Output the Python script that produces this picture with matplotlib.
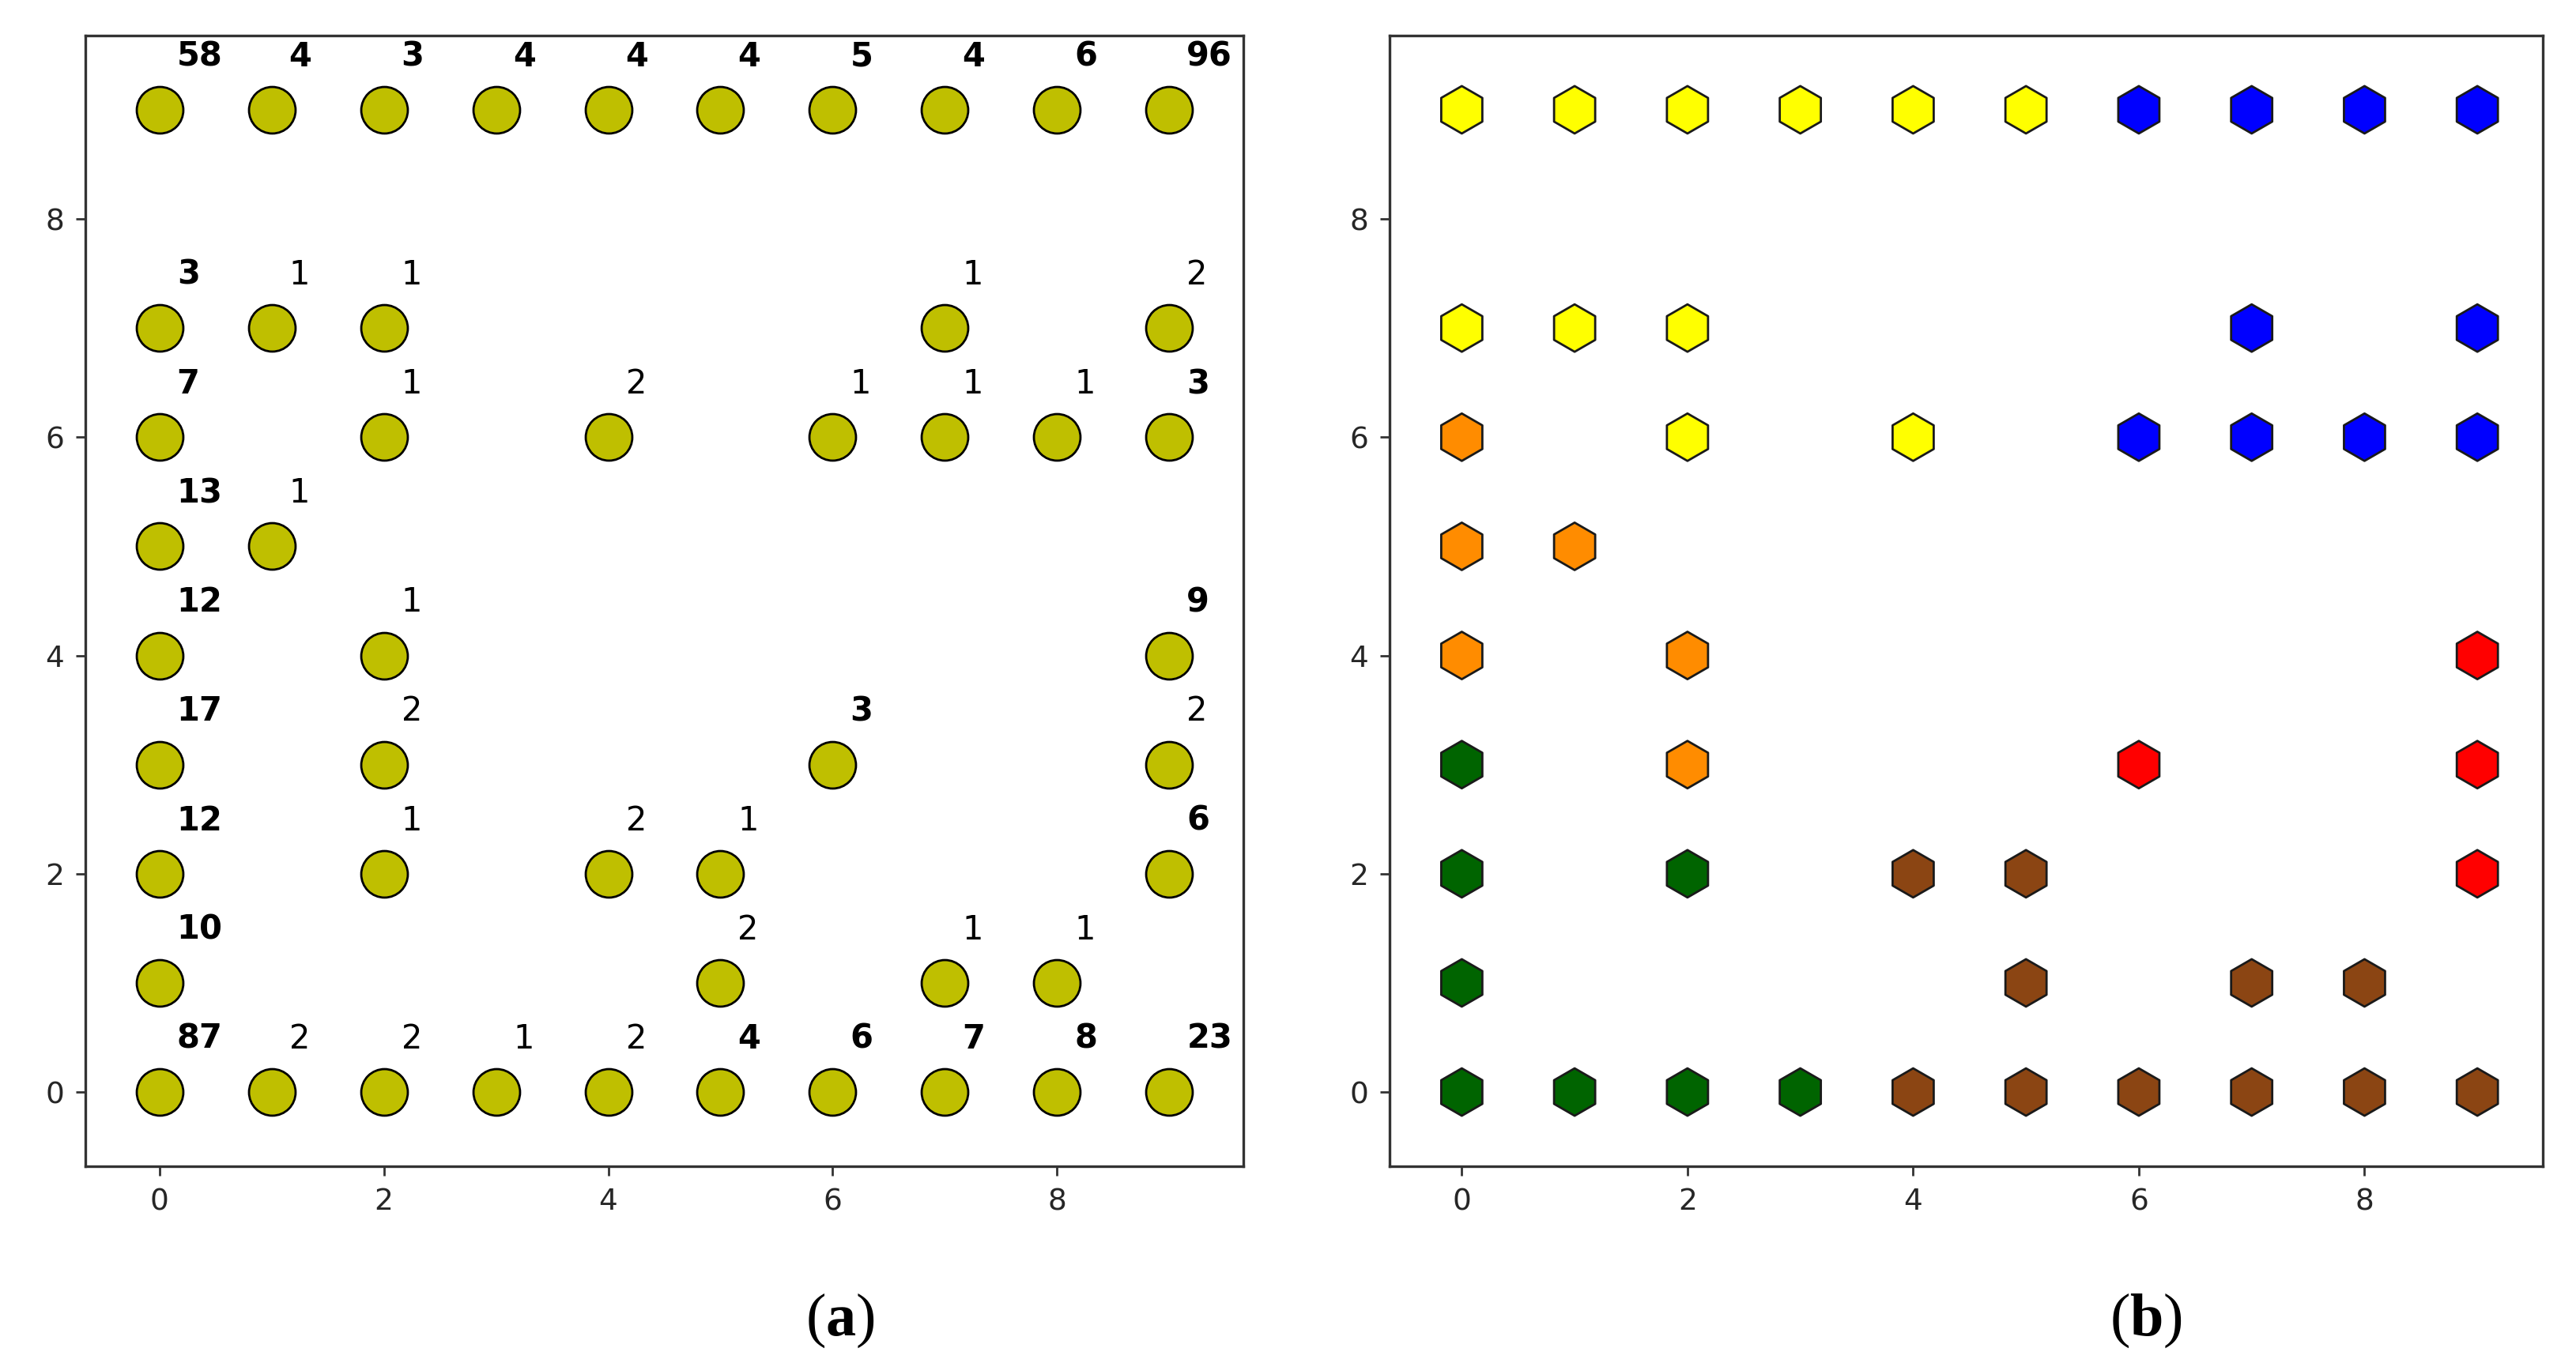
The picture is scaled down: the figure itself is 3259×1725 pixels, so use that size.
import matplotlib
matplotlib.use('Agg')
import matplotlib.pyplot as plt

# grid cells that got hits (same cells in both panels)
xs = [0, 1, 2, 3, 4, 5, 6, 7, 8, 9,
      0, 1, 2, 7, 9,
      0, 2, 4, 6, 7, 8, 9,
      0, 1,
      0, 2, 9,
      0, 2, 6, 9,
      0, 2, 4, 5, 9,
      0, 5, 7, 8,
      0, 1, 2, 3, 4, 5, 6, 7, 8, 9]
ys = [9] * 10 + [7] * 5 + [6] * 7 + [5] * 2 + [4] * 3 + [3] * 4 + [2] * 5 + [1] * 4 + [0] * 10

# hit counts shown above each cell in panel (a)
counts = ['58', '4', '3', '4', '4', '4', '5', '4', '6', '96',
          '3', '1', '1', '1', '2',
          '7', '1', '2', '1', '1', '1', '3',
          '13', '1',
          '12', '1', '9',
          '17', '2', '3', '2',
          '12', '1', '2', '1', '6',
          '10', '2', '1', '1',
          '87', '2', '2', '1', '2', '4', '6', '7', '8', '23']

# cluster of each cell in panel (b)
clusters = ['yellow'] * 6 + ['blue'] * 4 + \
    ['yellow', 'yellow', 'yellow', 'blue', 'blue'] + \
    ['orange', 'yellow', 'yellow', 'blue', 'blue', 'blue', 'blue'] + \
    ['orange', 'orange'] + \
    ['orange', 'orange', 'red'] + \
    ['green', 'orange', 'red', 'red'] + \
    ['green', 'green', 'brown', 'brown', 'red'] + \
    ['green', 'brown', 'brown', 'brown'] + \
    ['green'] * 4 + ['brown'] * 6

cluster_colors = {'yellow': '#ffff00', 'blue': '#0000ff', 'orange': '#ff8c00',
                  'red': '#ff0000', 'green': '#006400', 'brown': '#8b4513'}

ticks = [0, 2, 4, 6, 8]

W, H = 3259, 1725
fig = plt.figure(figsize=(W / 100, H / 100), dpi=100)

ax_a = fig.add_axes([108 / W, 1 - 1476 / H, 1465 / W, 1431 / H])
ax_b = fig.add_axes([1758 / W, 1 - 1476 / H, 1459 / W, 1431 / H])


def style_axes(ax, xlim):
    ax.set_xlim(*xlim)
    ax.set_ylim(-0.68, 9.68)
    ax.set_xticks(ticks)
    ax.set_yticks(ticks)
    for sp in ax.spines.values():
        sp.set_linewidth(2.4)
        sp.set_color('#333333')
    ax.tick_params(length=8.5, width=2, color='#333333', pad=11,
                   labelsize=27, labelcolor='#262626')


# panel (a): hit map
ax_a.scatter(xs, ys, s=1800, c='#bfbf00', edgecolors='black', linewidths=2, zorder=3)
for x, y, n in zip(xs, ys, counts):
    weight = 'bold' if int(n) >= 3 else 'normal'
    ax_a.text(x + 0.155, y + 0.40, n, ha='left', va='baseline',
              fontsize=30, fontweight=weight, color='black')
style_axes(ax_a, (-0.66, 9.66))

# panel (b): clusters
ax_b.scatter(xs, ys, s=1870, marker='h', c=[cluster_colors[c] for c in clusters],
             edgecolors='#1a1a1a', linewidths=2, zorder=3)
style_axes(ax_b, (-0.64, 9.58))

plt.rcParams['mathtext.fontset'] = 'custom'
plt.rcParams['mathtext.rm'] = 'Liberation Serif'
plt.rcParams['mathtext.bf'] = 'Liberation Serif:bold'
for cx, lab in [(1063, 'a'), (2715, 'b')]:
    fig.text(cx / W, 1 - 1690 / H, r'($\mathbf{%s}$)' % lab, ha='center', va='baseline',
             fontsize=55, family='Liberation Serif')

fig.savefig('out.png', dpi=100)
